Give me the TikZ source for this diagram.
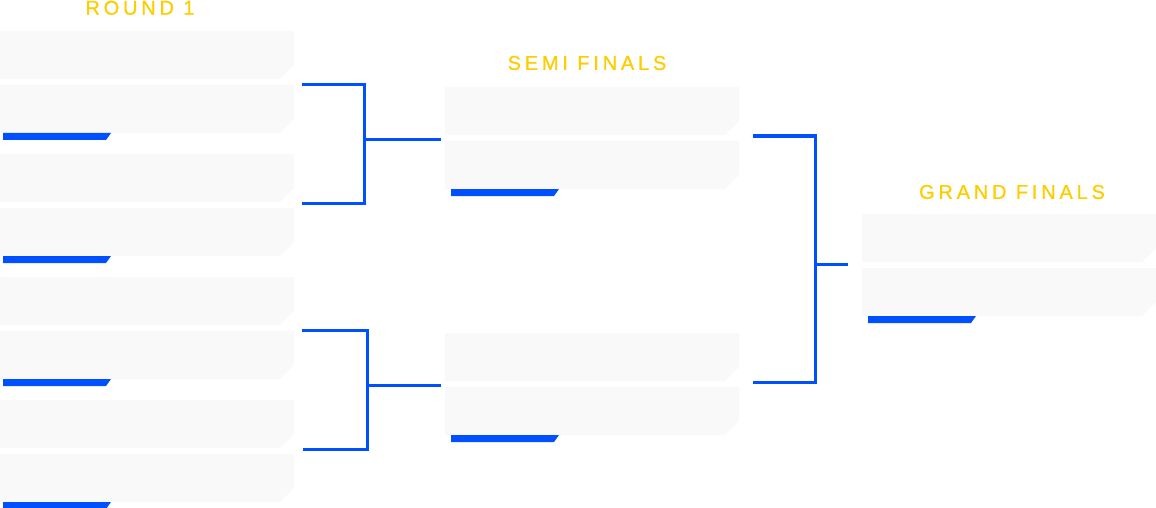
\documentclass[tikz,border=0pt]{standalone}
\usepackage{fontspec}
\setmainfont{Liberation Sans}
\usepackage{xcolor}
\usepackage{tikz}
\usetikzlibrary{arrows.meta,positioning,calc}

\definecolor{slotgray}{HTML}{F9F9F9}
\definecolor{winblue}{HTML}{0050FF}
\definecolor{roundgold}{HTML}{FFCC00}

\tikzset{
  slot/.style={fill=slotgray},
  winbar/.style={fill=winblue},
  link/.style={draw=winblue, line width=3.3pt},
  roundtitle/.style={text=roundgold, inner sep=0pt,
    font=\fontsize{20}{24}\selectfont\addfontfeatures{LetterSpace=19,FakeBold=0.8}}
}

% two team slots and the winner bar, top-left corner at (#1,#2)
\newcommand{\slotpair}[3]{%
  \fill[slot] (#1,#2) -- ++(294,0) -- ++(0,34) -- ++(-14,14) -- ++(-280,0) -- cycle;
  \fill[slot] (#1,#2+54) -- ++(294,0) -- ++(0,34) -- ++(-14,14) -- ++(-280,0) -- cycle;
  \fill[winbar] (#1+#3,#2+102) -- ++(108,0) -- ++(-5,7) -- ++(-103,0) -- cycle;
}

\begin{document}
\begin{tikzpicture}[x=1pt, y=-1pt]
\useasboundingbox (0,0) rectangle (1156,508);

% Round titles
\node[roundtitle] (r1title) at (140,7.8) {ROUND 1};
\node[roundtitle] (sftitle) at (587,63) {SEMI FINALS};
\node[roundtitle] (gftitle) at (1012,192) {GRAND FINALS};

% Round 1
\foreach \y in {31,154,277,400} \slotpair{0}{\y}{3};

% Semi finals
\foreach \y in {87,333} \slotpair{445}{\y}{6};

% Grand finals
\slotpair{862}{214}{6}

% Bracket points
\coordinate (qa) at (302,84.7);
\coordinate (qb) at (302,203.3);
\coordinate (qk) at (364.3,139.3);
\coordinate (sa) at (441,139.3);
\coordinate (qc) at (302,330.3);
\coordinate (qd) at (303,449.3);
\coordinate (ql) at (367.3,385.3);
\coordinate (sb) at (441,385.3);
\coordinate (sc) at (753,136);
\coordinate (sd) at (753,382.3);
\coordinate (sk) at (815.3,264.3);
\coordinate (gf) at (848,264.3);

% Round 1 -> semi finals
\draw[link] (qa) -| (qk) |- (qb);
\draw[link] (qk) -- (sa);
\draw[link] (qc) -| (ql) |- (qd);
\draw[link] (ql) -- (sb);

% Semi finals -> grand finals
\draw[link] (sc) -| (sk) |- (sd);
\draw[link] (sk) -- (gf);

\end{tikzpicture}
\end{document}
